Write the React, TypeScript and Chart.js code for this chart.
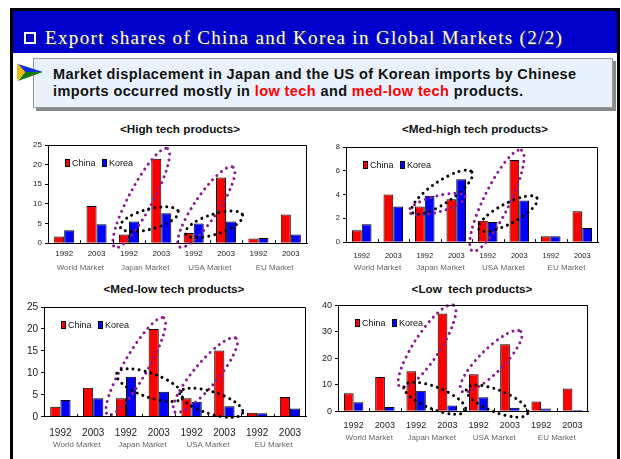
import React, { useEffect, useRef } from "react";
import { Chart, registerables } from "chart.js";
Chart.register(...registerables);

// ---------- data ----------
const yearLabels = ["1992", "2003", "1992", "2003", "1992", "2003", "1992", "2003"];
const marketLabels = ["World Market", "Japan Market", "USA Market", "EU Market"];
const seriesNames = ["China", "Korea"];

const highChina = [1.7, 9.5, 2.2, 21.5, 2.6, 16.7, 1.2, 7.3];
const highKorea = [3.3, 4.8, 5.5, 7.6, 5.0, 5.5, 1.3, 2.2];
const medHighChina = [1.0, 4.0, 3.0, 3.6, 1.8, 6.9, 0.5, 2.6];
const medHighKorea = [1.5, 3.0, 3.9, 5.3, 1.7, 3.5, 0.5, 1.2];
const medLowChina = [2.3, 6.6, 4.2, 20.0, 4.2, 15.1, 0.9, 4.5];
const medLowKorea = [3.8, 4.2, 9.1, 5.7, 3.4, 2.4, 0.8, 1.9];
const lowChina = [6.8, 12.9, 15.1, 36.9, 14.0, 25.3, 3.7, 8.6];
const lowKorea = [3.4, 1.6, 7.7, 2.2, 5.3, 1.3, 1.0, 0.5];

const chartTitles = [
  "<High tech products>",
  "<Med-high tech products>",
  "<Med-low tech products>",
  "<Low\u00a0 tech products>",
];

// ---------- styles / layout ----------
const NARROW = "'Liberation Sans Narrow', 'Liberation Sans', Arial, sans-serif";
const SANS = "'Liberation Sans', Arial, sans-serif";
const PURPLE = "#8B1C8E";
const RED = "#FF0000";
const BLUE = "#0000FF";

type Ellipse = { at: number; value: number; rx: number; ry: number; angle: number; color: string };

type Panel = {
  title: string;
  china: number[];
  korea: number[];
  max: number;
  step: number;
  left: number;
  top: number;
  width: number;
  plotH: number;
  tickFont: number;
  yearAt: number;
  groupAt: number;
  titleX: number;
  titleY: number;
  ellipses: Ellipse[];
};

const panels: Panel[] = [
  {
    title: chartTitles[0], china: highChina, korea: highKorea, max: 25, step: 5,
    left: 20, top: 137, width: 292, plotH: 98, tickFont: 8, yearAt: 11, groupAt: 25,
    titleX: 180, titleY: 129,
    ellipses: [
      { at: 2.38, value: 11.5, rx: 56, ry: 12, angle: -62, color: PURPLE },
      { at: 2.63, value: 6.1, rx: 30, ry: 10, angle: -15, color: "#000" },
      { at: 4.39, value: 9.2, rx: 48, ry: 12, angle: -56, color: PURPLE },
      { at: 4.63, value: 4.8, rx: 30, ry: 10, angle: -18, color: "#000" },
    ],
  },
  {
    title: chartTitles[1], china: medHighChina, korea: medHighKorea, max: 8, step: 1,
    left: 318, top: 139, width: 285, plotH: 95, tickFont: 7.5, yearAt: 14, groupAt: 26,
    titleX: 475, titleY: 129,
    ellipses: [
      { at: 2.55, value: 4.2, rx: 36, ry: 11, angle: -34, color: "#000" },
      { at: 2.39, value: 3.2, rx: 29, ry: 8, angle: -15, color: PURPLE },
      { at: 4.29, value: 3.5, rx: 56, ry: 13, angle: -64, color: PURPLE },
      { at: 4.64, value: 2.4, rx: 33, ry: 10, angle: -28, color: "#000" },
    ],
  },
  {
    title: chartTitles[2], china: medLowChina, korea: medLowKorea, max: 25, step: 5,
    left: 16, top: 298, width: 296, plotH: 111, tickFont: 10, yearAt: 16.6, groupAt: 28,
    titleX: 174, titleY: 289,
    ellipses: [
      { at: 2.3, value: 11.5, rx: 56, ry: 12, angle: -60, color: PURPLE },
      { at: 2.72, value: 7.2, rx: 35, ry: 12, angle: 20, color: "#000" },
      { at: 4.42, value: 9.5, rx: 48, ry: 12, angle: -50, color: PURPLE },
      { at: 4.6, value: 3.2, rx: 33, ry: 11, angle: 18, color: "#000" },
    ],
  },
  {
    title: chartTitles[3], china: lowChina, korea: lowKorea, max: 40, step: 5,
    left: 310, top: 297, width: 283, plotH: 106, tickFont: 9, yearAt: 14.7, groupAt: 27,
    titleX: 472, titleY: 289,
    ellipses: [
      { at: 2.35, value: 24.5, rx: 49, ry: 13, angle: -57, color: PURPLE },
      { at: 2.6, value: 4.9, rx: 33, ry: 11, angle: 22, color: "#000" },
      { at: 4.4, value: 18.9, rx: 42, ry: 12, angle: -45, color: PURPLE },
      { at: 4.59, value: 3.8, rx: 33, ry: 11, angle: 22, color: "#000" },
    ],
  },
];

function dims(p: Panel) {
  const fsY = p.tickFont;
  const yearPad = p.yearAt - 0.6 * fsY;
  const yearH = p.yearAt + 0.6 * fsY + 1;
  const groupPad = Math.max(0, p.groupAt - yearH - 4.8);
  const groupH = groupPad + 9.6 + 2;
  const height = Math.round(8 + p.plotH + yearH + groupH);
  return { yearPad, yearH, groupPad, groupH, height };
}

const framePlugin = {
  id: "plotFrame",
  afterDraw(chart: any) {
    const { ctx, chartArea: ca } = chart;
    const xs = chart.scales.x;
    ctx.save();
    ctx.strokeStyle = "#000";
    ctx.lineWidth = 1;
    ctx.beginPath();
    ctx.moveTo(ca.left, Math.round(ca.top) + 0.5);
    ctx.lineTo(Math.round(ca.right) - 0.5, Math.round(ca.top) + 0.5);
    ctx.lineTo(Math.round(ca.right) - 0.5, ca.bottom);
    ctx.stroke();
    for (let i = 1; i < yearLabels.length; i++) {
      const x = Math.round((xs.getPixelForValue(i - 1) + xs.getPixelForValue(i)) / 2) + 0.5;
      ctx.beginPath();
      ctx.moveTo(x, ca.bottom);
      ctx.lineTo(x, ca.bottom - 3);
      ctx.stroke();
    }
    ctx.restore();
  },
};

const legendPlugin = {
  id: "insideLegend",
  afterDraw(chart: any) {
    const { ctx, chartArea: ca } = chart;
    ctx.save();
    ctx.font = `9px ${NARROW}`;
    ctx.textBaseline = "middle";
    const y = Math.round(ca.top + 17.5);
    let x = Math.round(ca.left + 17);
    chart.data.datasets.forEach((ds: any) => {
      ctx.fillStyle = ds.backgroundColor;
      ctx.fillRect(x, y - 4, 5, 8);
      ctx.strokeStyle = "#000";
      ctx.lineWidth = 1;
      ctx.strokeRect(x + 0.5, y - 3.5, 4, 7);
      ctx.fillStyle = "#111";
      ctx.fillText(ds.label, x + 7, y + 0.5);
      x += 37;
    });
    ctx.restore();
  },
};

function ellipsePlugin(items: Ellipse[]) {
  return {
    id: "dottedEllipses",
    afterDatasetsDraw(chart: any) {
      const { ctx } = chart;
      const xs = chart.scales.x;
      const ys = chart.scales.y;
      ctx.save();
      ctx.lineWidth = 3;
      ctx.lineCap = "round";
      ctx.setLineDash([0.01, 6]);
      items.forEach((e) => {
        ctx.strokeStyle = e.color;
        ctx.beginPath();
        ctx.ellipse(
          xs.getPixelForValue(e.at),
          ys.getPixelForValue(e.value),
          e.rx,
          e.ry,
          (e.angle * Math.PI) / 180,
          0,
          Math.PI * 2
        );
        ctx.stroke();
      });
      ctx.restore();
    },
  };
}

function makeChart(canvas: HTMLCanvasElement, p: Panel) {
  const d = dims(p);
  return new Chart(canvas, {
    type: "bar",
    data: {
      labels: yearLabels,
      datasets: [
        {
          label: seriesNames[0],
          data: p.china,
          backgroundColor: RED,
          borderColor: "#000",
          borderWidth: 1,
          barPercentage: 1,
          categoryPercentage: 0.62,
        },
        {
          label: seriesNames[1],
          data: p.korea,
          backgroundColor: BLUE,
          borderColor: "#000",
          borderWidth: 1,
          barPercentage: 1,
          categoryPercentage: 0.62,
        },
      ],
    },
    options: {
      responsive: false,
      maintainAspectRatio: false,
      animation: false,
      devicePixelRatio: 1,
      layout: { padding: { top: 8, right: 5, left: 0, bottom: 0 } },
      plugins: {
        legend: { display: false },
        title: { display: false },
        tooltip: { enabled: false },
      },
      scales: {
        x: {
          type: "category",
          position: "bottom",
          weight: 0,
          offset: true,
          grid: { display: false, drawTicks: false },
          border: { display: true, color: "#000", width: 1 },
          ticks: {
            font: { family: NARROW, size: p.tickFont },
            color: "#222",
            padding: d.yearPad,
            maxRotation: 0,
            autoSkip: false,
          },
          afterFit: (s: any) => {
            s.height = d.yearH;
          },
        },
        x2: {
          type: "category",
          position: "bottom",
          weight: 1,
          labels: marketLabels,
          offset: true,
          grid: { display: false, drawTicks: false },
          border: { display: false },
          ticks: {
            font: { family: SANS, size: 8 },
            color: "#666",
            padding: d.groupPad,
            maxRotation: 0,
            autoSkip: false,
          },
          afterFit: (s: any) => {
            s.height = d.groupH;
          },
        },
        y: {
          min: 0,
          max: p.max,
          ticks: {
            stepSize: p.step,
            font: { family: NARROW, size: p.tickFont },
            color: "#222",
            padding: 3,
          },
          grid: {
            display: true,
            drawOnChartArea: false,
            drawTicks: true,
            tickLength: 3,
            color: "#000",
          },
          border: { display: true, color: "#000", width: 1 },
          afterFit: (s: any) => {
            s.width = 28;
          },
        },
      },
    } as any,
    plugins: [framePlugin, legendPlugin, ellipsePlugin(p.ellipses)],
  });
}

function ChartPanel({ p }: { p: Panel }) {
  const ref = useRef<HTMLCanvasElement>(null);
  const d = dims(p);
  useEffect(() => {
    if (!ref.current) return;
    const c = makeChart(ref.current, p);
    return () => c.destroy();
  }, []);
  return (
    <>
      <div
        style={{
          position: "absolute",
          left: p.titleX - 120,
          width: 240,
          top: p.titleY - 8,
          height: 16,
          lineHeight: "16px",
          textAlign: "center",
          fontFamily: SANS,
          fontWeight: "bold",
          fontSize: 11.7,
          color: "#111",
          whiteSpace: "pre",
        }}
      >
        {p.title}
      </div>
      <canvas
        ref={ref}
        width={p.width}
        height={d.height}
        style={{ position: "absolute", left: p.left, top: p.top, width: p.width, height: d.height }}
      />
    </>
  );
}

export default function App() {
  return (
    <div
      style={{
        position: "fixed",
        left: 0,
        top: 0,
        width: 621,
        height: 459,
        background: "#fff",
        overflow: "hidden",
      }}
    >
      {/* outer black frame */}
      <div
        style={{
          position: "absolute",
          left: 10,
          top: 8,
          width: 610,
          height: 470,
          border: "3px solid #000",
          boxSizing: "border-box",
        }}
      />
      {/* blue header */}
      <div
        style={{ position: "absolute", left: 13, top: 11, width: 604, height: 42, background: "#0000CC" }}
      />
      <div
        style={{
          position: "absolute",
          left: 24,
          top: 32,
          width: 12,
          height: 12,
          border: "2px solid #fff",
          boxSizing: "border-box",
        }}
      />
      <div
        style={{
          position: "absolute",
          left: 45,
          top: 27,
          height: 22,
          lineHeight: "22px",
          fontFamily: "'Liberation Serif', 'DejaVu Serif', serif",
          fontSize: 19,
          letterSpacing: "1.35px",
          color: "#fff",
          whiteSpace: "nowrap",
          textShadow: "1px 1px 0 #333",
        }}
      >
        Export shares of China and Korea in Global Markets (2/2)
      </div>
      {/* subtitle box */}
      <div
        style={{
          position: "absolute",
          left: 33,
          top: 58,
          width: 580,
          height: 50,
          background: "#E8F1FC",
          border: "1px solid #999",
          boxSizing: "border-box",
          boxShadow: "3px 3px 0 #8a8a8a",
        }}
      />
      <svg
        width={30}
        height={22}
        style={{ position: "absolute", left: 15, top: 61 }}
        viewBox="0 0 30 22"
      >
        <polygon points="3,3 28,11 10,11" fill="#1030E0" />
        <polygon points="10,11 28,11 3,20" fill="#1A7A10" />
        <polygon points="2,2 10,11 2,20" fill="#F0B800" />
      </svg>
      <div
        style={{
          position: "absolute",
          left: 53,
          top: 66,
          lineHeight: "17px",
          fontFamily: SANS,
          fontWeight: "bold",
          fontSize: 14.5,
          letterSpacing: "0.4px",
          color: "#111",
          whiteSpace: "nowrap",
        }}
      >
        <div>Market displacement in Japan and the US of Korean imports by Chinese</div>
        <div>
          imports occurred mostly in <span style={{ color: RED }}>low tech</span> and{" "}
          <span style={{ color: RED }}>med-low tech</span> products.
        </div>
      </div>
      {panels.map((p, i) => (
        <ChartPanel key={i} p={p} />
      ))}
    </div>
  );
}
